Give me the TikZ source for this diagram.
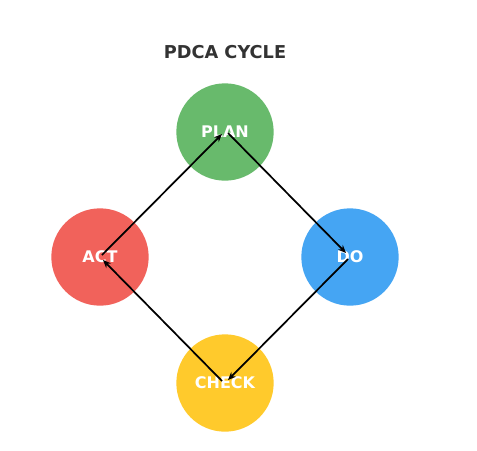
\documentclass[tikz,border=0pt]{standalone}
\usepackage{fontspec}
\setmainfont{DejaVu Sans}
\usetikzlibrary{arrows.meta}
\definecolor{cgreen}{HTML}{68BA6C}
\definecolor{cred}{HTML}{F1625B}
\definecolor{cblue}{HTML}{45A5F3}
\definecolor{cyellow}{HTML}{FFCA2C}
\definecolor{ctitle}{HTML}{333333}
\begin{document}
\begin{tikzpicture}[x=0.75pt,y=-0.75pt,
  phase/.style={circle,minimum size=73pt,inner sep=0pt,text=white,font=\bfseries\fontsize{12}{14}\selectfont},
  arr/.style={-{Stealth[length=6pt,width=5pt]},line width=1.3pt,black}]
\useasboundingbox (0,0) rectangle (477,450);
\node[font=\bfseries\fontsize{13.3}{15}\selectfont,text=ctitle] (title) at (225,52) {PDCA CYCLE};
\node[phase,fill=cgreen] (plan) at (225,132) {PLAN};
\node[phase,fill=cblue] (do) at (350,257) {DO};
\node[phase,fill=cyellow] (check) at (225,383) {CHECK};
\node[phase,fill=cred] (act) at (100,257) {ACT};
\draw[arr] ([shift={(2,-2)}]act.center) -- ([shift={(-3,2)}]plan.center);
\draw[arr] ([shift={(3,1)}]plan.center) -- ([shift={(-4,-4)}]do.center);
\draw[arr] ([shift={(-2,2)}]do.center) -- ([shift={(3,-3)}]check.center);
\draw[arr] ([shift={(-3,-2)}]check.center) -- ([shift={(3,3)}]act.center);
\end{tikzpicture}
\end{document}
